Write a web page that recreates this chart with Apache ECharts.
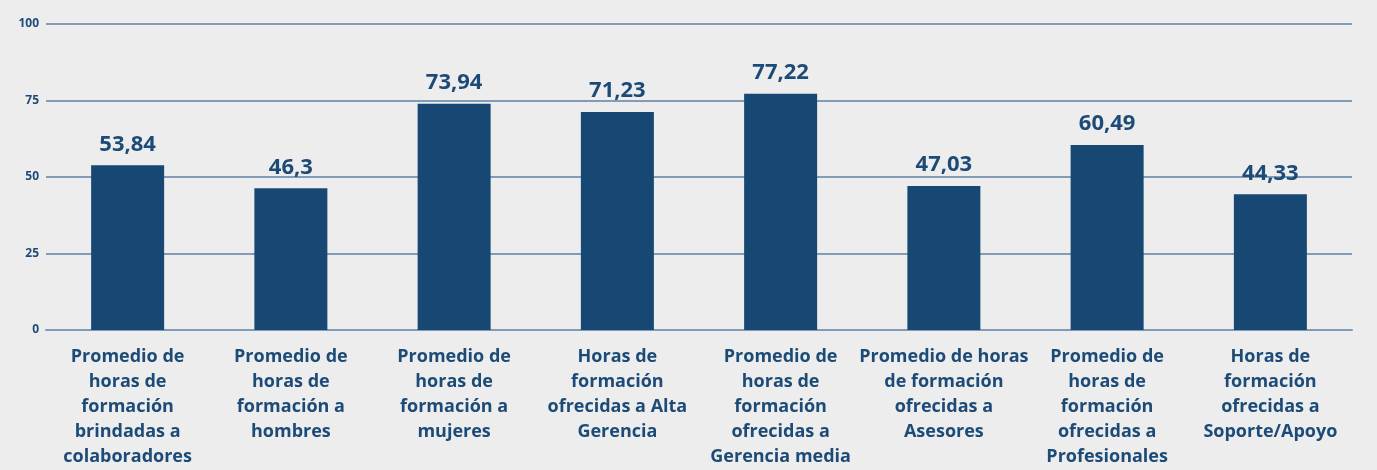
<!DOCTYPE html>
<html>
<head>
<meta charset="utf-8">
<script src="https://cdn.jsdelivr.net/npm/echarts@6/dist/echarts.min.js"></script>
<style>
  html, body { margin: 0; padding: 0; background: #ededed; }
  #chart { width: 1377px; height: 470px; }
</style>
</head>
<body>
<div id="chart"></div>
<script>
// Horas de formación por grupo
const categories = [
  'Promedio de\nhoras de\nformación\nbrindadas a\ncolaboradores',
  'Promedio de\nhoras de\nformación a\nhombres',
  'Promedio de\nhoras de\nformación a\nmujeres',
  'Horas de\nformación\nofrecidas a Alta\nGerencia',
  'Promedio de\nhoras de\nformación\nofrecidas a\nGerencia media',
  'Promedio de horas\nde formación\nofrecidas a\nAsesores',
  'Promedio de\nhoras de\nformación\nofrecidas a\nProfesionales',
  'Horas de\nformación\nofrecidas a\nSoporte/Apoyo'
];
const values = [53.84, 46.3, 73.94, 71.23, 77.22, 47.03, 60.49, 44.33];
const yTicks = [0, 25, 50, 75, 100];

const DARK = '#174873';
const TEXT = '#1d4b78';
const GRID = '#5f7fa0';

const chart = echarts.init(document.getElementById('chart'), null, { renderer: 'canvas' });
chart.setOption({
  backgroundColor: '#ededed',
  animation: false,
  grid: { left: 46, right: 25, top: 24, bottom: 140 },
  xAxis: {
    type: 'category',
    data: categories,
    axisLine: { show: true, lineStyle: { color: '#7f9bb8', width: 2 } },
    axisTick: { show: false },
    axisLabel: {
      interval: 0,
      margin: 14,
      color: TEXT,
      fontFamily: 'Open Sans',
      fontWeight: 700,
      fontSize: 18,
      lineHeight: 25,
      align: 'center'
    }
  },
  yAxis: {
    type: 'value',
    min: yTicks[0],
    max: yTicks[yTicks.length - 1],
    interval: 25,
    axisLine: { show: false },
    axisTick: { show: false },
    splitLine: { lineStyle: { color: GRID, width: 1.5 } },
    axisLabel: {
      margin: 7,
      color: TEXT,
      fontFamily: 'Open Sans',
      fontWeight: 700,
      fontSize: 12
    }
  },
  series: [{
    type: 'bar',
    data: values,
    barWidth: 73,
    itemStyle: { color: DARK },
    label: {
      show: true,
      position: 'top',
      distance: 10,
      color: TEXT,
      fontFamily: 'Open Sans',
      fontWeight: 700,
      fontSize: 22,
      formatter: p => String(p.value).replace('.', ',')
    }
  }]
});
</script>
</body>
</html>
